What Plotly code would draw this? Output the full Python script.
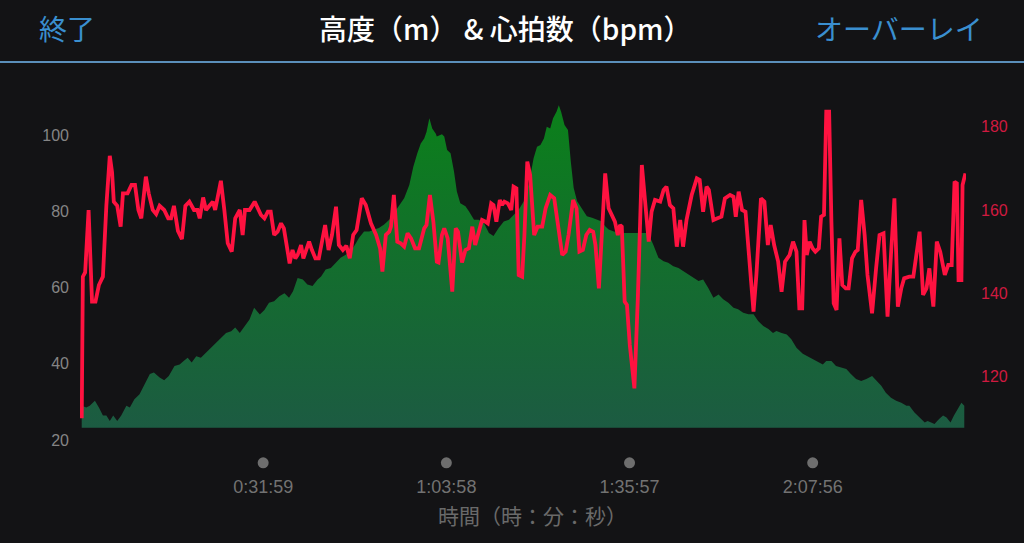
import plotly.graph_objects as go

# elapsed time (minutes) and elevation (m)
elev_time = [0.3, 1.1, 1.7, 2.6, 3.3, 4.0, 4.6, 5.2, 5.8, 6.5, 7.2, 8.1, 8.7, 9.5, 10.4, 11.3, 12.2, 12.9,
             13.9, 14.7, 15.5, 16.5, 17.4, 18.1, 18.8, 19.5, 20.3, 21.1, 22.0, 22.9, 23.8, 24.7, 25.5, 26.4,
             27.1, 27.9, 28.7, 29.6, 30.4, 31.4, 32.2, 33.0, 33.9, 34.8, 35.7, 36.5, 37.2, 38.0, 38.9, 39.7,
             40.6, 41.5, 42.1, 42.9, 43.8, 44.7, 45.5, 46.4, 47.3, 48.2, 48.7, 49.6, 50.5, 51.4, 52.2, 53.1,
             54.0, 54.8, 55.7, 56.6, 57.5, 58.2, 58.9, 59.5, 60.1, 60.5, 61.0, 61.5, 62.1, 62.3, 63.2, 63.6,
             64.1, 64.7, 65.3, 65.8, 66.4, 67.3, 67.9, 68.8, 69.6, 70.5, 71.4, 72.2, 73.1, 74.0, 74.9, 75.7,
             76.6, 77.5, 78.4, 79.2, 79.8, 80.4, 81.0, 81.5, 82.1, 82.6, 83.2, 83.6, 84.0, 84.6, 85.2, 85.7,
             86.2, 86.8, 87.7, 88.5, 89.4, 90.3, 91.1, 91.7, 92.3, 93.2, 94.6, 96.3, 98.1, 99.2, 100.1, 101.0,
             101.9, 102.7, 103.6, 104.5, 105.3, 106.2, 107.1, 108.0, 108.8, 109.7, 110.6, 111.5, 112.3, 113.2,
             114.1, 114.9, 115.8, 116.7, 117.6, 118.4, 119.3, 120.2, 121.0, 121.6, 122.5, 123.4, 124.2, 125.1,
             126.2, 127.4, 128.6, 129.7, 130.3, 131.2, 132.0, 132.9, 133.8, 134.6, 135.5, 136.4, 137.3, 138.3,
             139.1, 139.9, 140.7, 141.6, 142.5, 143.4, 144.3, 144.8, 145.7, 146.6, 147.5, 148.0, 148.6, 149.2,
             150.0, 150.7, 151.3, 152.0, 152.6, 153.3, 153.9, 154.4]
elevation = [29.0, 28.5, 29.0, 30.3, 28.5, 26.4, 26.4, 25.0, 26.4, 25.0, 26.4, 29.0, 28.5, 30.7, 32.0, 34.6, 37.3, 37.7,
             36.4, 35.7, 36.8, 39.4, 39.8, 40.7, 41.6, 40.3, 42.0, 41.6, 42.9, 44.2, 45.5, 46.8, 48.1, 48.5,
             49.5, 48.1, 49.9, 51.6, 54.7, 52.9, 54.1, 56.0, 56.4, 57.7, 58.5, 57.3, 59.0, 62.5, 62.1, 60.8,
             60.4, 62.1, 62.9, 64.7, 65.1, 66.5, 67.8, 68.6, 69.5, 71.7, 73.0, 74.7, 74.7, 75.2, 75.6, 76.5,
             77.8, 79.5, 81.3, 83.4, 86.9, 91.7, 95.2, 97.8, 99.1, 100.8, 104.4, 101.7, 100.4, 99.6, 100.2, 99.6,
             96.1, 95.2, 90.4, 85.2, 82.1, 81.3, 80.0, 77.8, 77.8, 77.0, 74.3, 73.5, 75.6, 77.3, 77.8, 79.1,
             80.4, 82.6, 87.4, 93.9, 96.9, 97.4, 99.1, 102.2, 101.7, 104.4, 106.1, 107.8, 106.1, 102.6, 101.3, 93.0,
             86.1, 82.6, 80.4, 78.7, 78.3, 77.8, 77.3, 76.1, 75.2, 74.7, 74.3, 74.3, 74.3, 74.3, 71.2, 67.8,
             66.9, 66.5, 65.6, 65.1, 64.3, 63.4, 62.5, 61.7, 62.1, 59.9, 57.3, 58.2, 56.9, 56.0,
             54.7, 54.3, 53.4, 53.0, 53.0, 51.2, 49.9, 49.1, 48.1, 48.6, 48.1, 47.7, 46.4, 44.2,
             42.6, 41.6, 40.7, 39.8, 40.7, 40.7, 39.4, 39.0, 38.6, 37.3, 36.0, 35.5, 36.0, 36.8,
             35.5, 34.2, 32.4, 31.1, 30.3, 29.8, 29.0, 29.0, 27.2, 25.9, 24.6, 25.0, 24.6, 24.2,
             25.5, 26.4, 25.9, 24.6, 26.4, 28.1, 29.8, 29.0]

# elapsed time (minutes) and heart rate (bpm)
hr_time = [0.3, 0.5, 0.9, 1.5, 2.1, 2.7, 3.3, 4.0, 4.6, 5.2, 5.6, 5.9, 6.5, 7.1, 7.5, 8.3, 9.0, 9.6, 10.2, 10.7,
           11.5, 12.0, 12.7, 13.3, 13.9, 14.7, 15.4, 15.9, 16.4, 17.1, 17.8, 18.4, 19.1, 19.9, 20.5, 20.9, 21.5,
           22.0, 22.6, 23.2, 23.6, 24.6, 25.2, 25.8, 26.5, 27.1, 27.9, 28.4, 28.8, 29.6, 30.5,
           31.6, 32.2, 32.8, 33.3, 33.9, 34.5, 35.1, 35.6, 36.2, 36.6, 37.1, 37.6, 38.0, 38.6, 39.0, 39.6,
           40.0, 40.5, 41.1, 41.7, 42.4, 42.8, 43.4, 44.0, 44.7, 45.2, 45.9, 46.5, 47.1, 47.7, 48.3, 49.2,
           49.9, 50.8, 51.7, 52.4, 52.8, 53.4, 54.0, 54.3, 54.8, 55.4, 56.0, 56.6, 57.2, 57.8, 58.5, 59.2,
           60.1, 60.5, 61.1, 61.7,
           62.3, 62.6, 63.2, 63.6, 64.2, 65.0, 65.6, 66.0, 66.7, 67.3, 67.9, 68.5, 69.0, 69.6, 70.2, 70.8,
           71.2, 71.8, 72.2, 72.7, 73.3, 73.7, 74.1, 74.7, 75.3, 75.7, 76.2, 76.6, 77.2, 77.6, 78.1, 78.6,
           79.3, 79.9, 80.7, 81.3, 82.1, 82.8, 83.4, 84.2, 84.8, 85.3, 86.1, 86.7, 87.2, 87.8, 88.4, 89.0,
           89.6, 90.0, 90.6, 91.1, 91.7, 92.3,
           93.4, 93.9, 94.3, 94.6, 95.1, 95.5, 96.0, 96.8, 97.4, 98.1, 98.6, 99.3, 99.8, 100.4, 101.3, 101.9,
           102.4, 103.0, 103.6, 104.2, 104.8, 105.3, 105.9, 106.8, 107.7, 108.2, 108.8, 109.4, 109.8, 110.6,
           111.3, 112.0, 112.6, 113.5, 114.1, 114.5, 115.0, 115.6, 116.2, 117.0, 117.6, 118.1, 118.9, 119.5,
           120.1, 120.6, 121.2, 121.9, 122.5, 123.1, 123.9,
           124.5, 125.1, 125.6, 126.1, 126.5, 126.9, 127.4, 127.9, 128.4, 129.0, 129.4, 129.9, 130.3, 130.8,
           131.2, 131.6, 132.1, 132.6, 133.1, 133.7, 134.2, 134.8, 135.4, 135.8, 136.4, 137.0, 137.5, 138.3,
           139.0, 139.6, 140.3, 141.0, 141.6, 142.2, 142.8, 143.4, 143.9, 144.8, 145.5, 146.6, 147.2, 147.8,
           148.3, 149.0, 149.6, 150.2, 151.0, 151.6, 152.2, 152.7, 153.1, 153.4, 153.9, 154.1, 154.6]
heart_rate = [110, 144, 145, 160, 138, 138, 142, 144, 161, 173, 169, 162, 161, 156, 164, 164, 166, 166, 160, 158,
              168, 164, 160, 159, 161, 160, 158, 158, 161, 155, 153, 161, 162, 160, 160, 158, 163,
              160, 161, 162, 160, 167, 160, 152, 150, 158, 160, 154, 160, 160, 162,
              158.8, 158, 159.6, 159.6, 154, 154.8, 156.8, 155.6, 150.8, 147.2, 150.4, 148.4, 149.2, 151.6, 148.4, 150.8,
              152.4, 150.4, 148.4, 148.4, 154, 156.4, 150.4, 154, 160.8, 151.6, 150.4, 151.4, 148.4, 154, 155.2, 162.8,
              161.2, 156.8, 154, 150.8, 145.2, 154, 154.8, 156, 163.6, 152.4, 152, 151.2, 154.4, 153.2, 150.8, 150.8,
              155.6, 156.4, 163.6, 157.2,
              147.6, 147.4, 154, 155.6, 153.2, 140.4, 155.6, 154.8, 147.4, 150.4, 150.8, 156, 151.6, 154.8, 157.6, 157.2,
              156.8, 161.6, 161.2, 157.2, 162.4, 161.2, 162, 161.6, 160, 165.6, 165.2, 144.4, 144, 154, 171.6, 168.4,
              154, 156, 156, 160.4, 163.6, 162.8, 156.4, 149.2, 150, 154, 162.4, 160.4, 150, 150.4, 154, 155.2,
              154.8, 151.6, 141.2, 155.6, 168.8, 160.4,
              157.2, 154, 156.4, 156, 138, 137.2, 127.6, 117.2, 138.8, 170.8, 162, 152.4, 159.6, 162.4, 162, 164.8,
              165.6, 161.2, 160.4, 151.2, 157.6, 151.2, 157.6, 163.6, 167.6, 167.2, 159.6, 165.6, 164.8, 157.6,
              158, 158.4, 162.8, 163.6, 163.2, 158.4, 164.4, 160, 159.6, 146, 135.6, 144.4, 162.8, 162,
              151.6, 156.4, 151.6, 147.6, 140.4, 147.6, 149.2,
              152.4, 150, 136.4, 136.4, 157.6, 149.2, 152.4, 150.8, 150, 150.8, 158.4, 158.8, 183.6, 183.6,
              157.2, 137.6, 136, 153.2, 142, 141.2, 141.2, 148.4, 150, 150.4, 162.4, 154, 144.4, 135.2,
              146, 154, 154.4, 134.4, 149.2, 162.8, 136.8, 141.2, 143.6, 144, 144, 154.8, 139.6, 141.2,
              146, 136.8, 152.4, 150, 144.4, 146.8, 146.8, 166.8, 166.4, 143.2, 143.2, 166, 168.8]

tick_minutes = [31.98, 63.97, 95.95, 127.93]
tick_labels = ["0:31:59", "1:03:58", "1:35:57", "2:07:56"]
elev_ticks = [20, 40, 60, 80, 100]
hr_ticks = [120, 140, 160, 180]
elev_floor = 23.2

BG = "#131315"
BLUE = "#3a8fcf"
RED = "#ff1240"
NUM_FONT = "Liberation Sans, Noto Sans CJK JP, sans-serif"
JP_FONT = "Noto Sans CJK JP, sans-serif"

fig = go.Figure()

# floor of the elevation area
fig.add_trace(go.Scatter(x=elev_time, y=[elev_floor] * len(elev_time), mode="lines",
                         line=dict(width=0), hoverinfo="skip", showlegend=False))
fig.add_trace(go.Scatter(
    x=elev_time, y=elevation, mode="lines", line=dict(width=0),
    fill="tonexty",
    fillgradient=dict(type="vertical", colorscale=[[0, "#1c5b42"], [1, "#0b801a"]]),
    showlegend=False, name="高度",
))
fig.add_trace(go.Scatter(
    x=hr_time, y=heart_rate, mode="lines", yaxis="y2",
    line=dict(color=RED, width=3.8), showlegend=False, name="心拍数",
))

# grey dots above each time label
dots = [dict(type="circle", xref="x", yref="paper", xsizemode="pixel", ysizemode="pixel",
             xanchor=t, yanchor=-0.066, x0=-5.5, x1=5.5, y0=-5.5, y1=5.5,
             fillcolor="#6e6e6e", line=dict(width=0)) for t in tick_minutes]

fig.update_layout(
    width=1024, height=543,
    paper_bgcolor=BG, plot_bgcolor=BG,
    margin=dict(l=80, r=58, t=95, b=103),
    xaxis=dict(range=[0, 154.7], showgrid=False, zeroline=False, showline=False,
               tickmode="array", tickvals=tick_minutes, ticktext=tick_labels, ticks="",
               ticklabelstandoff=34, tickfont=dict(family=NUM_FONT, size=18, color="#727272")),
    yaxis=dict(range=[20, 110.5], showgrid=False, zeroline=False, showline=False,
               tickmode="array", tickvals=elev_ticks, ticks="", ticklabelstandoff=10,
               tickfont=dict(family=NUM_FONT, size=16, color="#858585")),
    yaxis2=dict(range=[104.8, 187.6], overlaying="y", side="right", showgrid=False,
                zeroline=False, showline=False, tickmode="array", tickvals=hr_ticks, ticks="",
                ticklabelstandoff=14, tickfont=dict(family=NUM_FONT, size=16, color="#d01a40")),
    shapes=[dict(type="line", xref="paper", yref="paper", x0=-0.0903, x1=1.0655, y0=1.0957, y1=1.0957,
                 line=dict(color="#5b8fba", width=2))] + dots,
    annotations=[
        dict(text="終了", xref="paper", yref="paper", x=-0.0485, y=1.194, xanchor="left", yanchor="middle",
             showarrow=False, font=dict(family=JP_FONT, size=28, color=BLUE)),
        dict(text="高度（m） & 心拍数（bpm）", xref="paper", yref="paper", x=0.4797, y=1.194,
             xanchor="center", yanchor="middle", showarrow=False,
             font=dict(family=JP_FONT, size=28, color="#ffffff", weight=500)),
        dict(text="オーバーレイ", xref="paper", yref="paper", x=1.0214, y=1.194, xanchor="right",
             yanchor="middle", showarrow=False, font=dict(family=JP_FONT, size=28, color=BLUE)),
        dict(text="時間（時：分：秒）", xref="paper", yref="paper", x=0.511, y=-0.216, xanchor="center",
             yanchor="middle", showarrow=False, font=dict(family=JP_FONT, size=21, color="#6a6a6a")),
    ],
)

fig.write_html("out.html", config={"displayModeBar": False},
               post_script="document.body.style.margin='0';document.body.style.backgroundColor='#131315';")
